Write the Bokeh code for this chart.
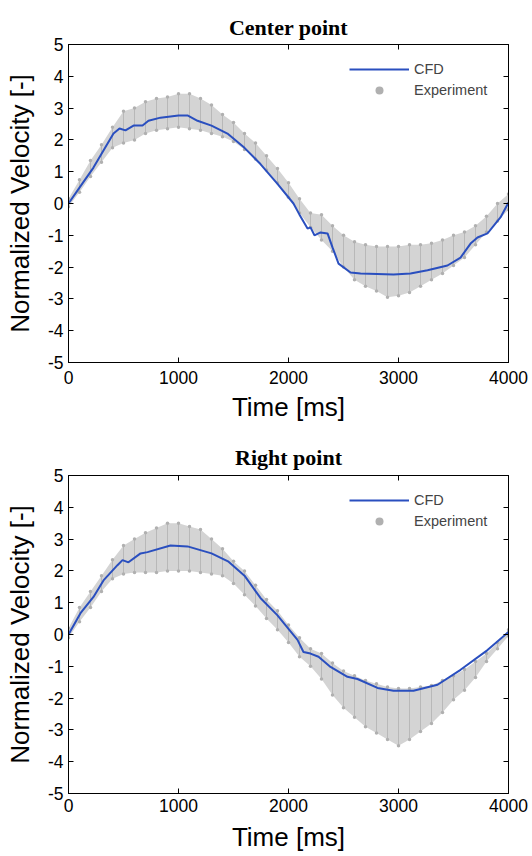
from bokeh.plotting import figure
from bokeh.layouts import column
from bokeh.models import FixedTicker, LinearAxis, Range1d, Legend, LegendItem, ColumnDataSource
from bokeh.embed import file_html
from bokeh.resources import INLINE

x_ticks = [0, 1000, 2000, 3000, 4000]
y_ticks = [-5, -4, -3, -2, -1, 0, 1, 2, 3, 4, 5]
y_tick_labels = ["-5", "-4", "-3", "-2", "-1", "0", "1", "2", "3", "4", "5"]

# ---- Center point: CFD ----
center_cfd_t = [0, 100, 227, 409, 464, 518, 591, 673, 727, 836, 1000, 1082, 1173, 1300, 1445, 1600,
                1745, 1900, 2045, 2100, 2173, 2200, 2236, 2291, 2355, 2400, 2455, 2564, 2655, 2955,
                3109, 3264, 3445, 3564, 3655, 3718, 3809, 3927, 4000]
center_cfd_v = [0.0, 0.5, 1.13, 2.2, 2.36, 2.3, 2.45, 2.45, 2.6, 2.7, 2.77, 2.77, 2.6, 2.45, 2.2, 1.75,
                1.24, 0.62, 0.0, -0.35, -0.79, -0.75, -1.0, -0.91, -0.94, -1.38, -1.89, -2.17, -2.2, -2.23,
                -2.2, -2.1, -1.95, -1.7, -1.26, -1.07, -0.94, -0.44, 0.03]

# ---- Experiment envelope (sampled every 100 ms) ----
exp_t = [0, 100, 200, 300, 400, 500, 600, 700, 800, 900, 1000, 1100, 1200, 1300, 1400, 1500, 1600,
         1700, 1800, 1900, 2000, 2100, 2200, 2300, 2400, 2500, 2600, 2700, 2800, 2900, 3000, 3100,
         3200, 3300, 3400, 3500, 3600, 3700, 3800, 3900, 4000]
center_exp_lo = [-0.1, 0.35, 0.85, 1.3, 1.75, 1.9, 2.0, 2.2, 2.3, 2.35, 2.4, 2.35, 2.3, 2.2, 2.1, 1.95, 1.7,
                 1.4, 1.05, 0.65, 0.2, -0.3, -0.75, -1.15, -1.5, -2.0, -2.4, -2.6, -2.75, -2.95, -2.9, -2.8,
                 -2.6, -2.4, -2.2, -1.95, -1.7, -1.3, -0.9, -0.55, -0.2]
center_exp_hi = [0.15, 0.75, 1.35, 1.85, 2.4, 2.9, 3.0, 3.2, 3.3, 3.35, 3.45, 3.45, 3.3, 3.1, 2.8, 2.55, 2.2,
                 1.9, 1.5, 1.1, 0.65, 0.15, -0.3, -0.35, -0.7, -1.0, -1.2, -1.3, -1.35, -1.35, -1.35, -1.3,
                 -1.3, -1.25, -1.15, -1.0, -0.9, -0.7, -0.4, 0.0, 0.3]

# ---- Right point: CFD ----
right_cfd_t = [0, 109, 227, 318, 445, 491, 545, 655, 718, 927, 1082, 1300, 1450, 1600, 1745, 1900, 2000,
               2082, 2136, 2200, 2273, 2382, 2536, 2627, 2809, 2955, 3136, 3355, 3564, 3809, 4000]
right_cfd_v = [0.0, 0.67, 1.18, 1.7, 2.18, 2.34, 2.27, 2.55, 2.59, 2.8, 2.77, 2.55, 2.3, 1.85, 1.15, 0.6, 0.18,
               -0.17, -0.55, -0.6, -0.7, -1.02, -1.33, -1.4, -1.68, -1.77, -1.77, -1.58, -1.11, -0.49, 0.08]

right_exp_lo = [-0.1, 0.4, 0.85, 1.35, 1.75, 1.9, 1.95, 1.95, 1.95, 2.0, 2.0, 2.0, 1.95, 1.9, 1.85, 1.6, 1.25,
                0.9, 0.5, 0.15, -0.25, -0.7, -1.0, -1.4, -1.9, -2.3, -2.6, -2.9, -3.1, -3.3, -3.5, -3.3,
                -3.05, -2.8, -2.45, -2.05, -1.75, -1.35, -0.85, -0.45, -0.05]
right_exp_hi = [0.2, 0.85, 1.35, 1.85, 2.35, 2.8, 3.0, 3.2, 3.35, 3.5, 3.5, 3.4, 3.3, 3.0, 2.7, 2.3, 2.0,
                1.55, 1.1, 0.75, 0.3, -0.1, -0.45, -0.6, -0.9, -1.15, -1.3, -1.45, -1.55, -1.65, -1.7, -1.7,
                -1.65, -1.6, -1.45, -1.3, -1.1, -0.85, -0.6, -0.25, 0.15]

SANS = "Liberation Sans"
BLUE = "#2a4fbf"
DOT = "#b0b0b0"


def make_panel(title, cfd_t, cfd_v, lo, hi, height, b_top, b_bottom, title_standoff,
               xtick_standoff, xlab_standoff):
    p = figure(width=532, height=height, x_range=Range1d(0, 4000), y_range=Range1d(-5, 5),
               output_backend="svg", toolbar_location=None,
               min_border_left=68, min_border_right=24, min_border_top=b_top,
               min_border_bottom=b_bottom)
    p.title.text = title
    p.title.text_font = "Liberation Serif"
    p.title.text_font_style = "bold"
    p.title.text_font_size = "22px"
    p.title.text_color = "black"
    p.title.align = "center"
    p.title.standoff = title_standoff
    p.grid.visible = False
    p.outline_line_color = "black"
    p.outline_line_width = 1

    for ax in (p.xaxis[0], p.yaxis[0]):
        ax.major_tick_in = 5
        ax.major_tick_out = 0
        ax.minor_tick_in = 0
        ax.minor_tick_out = 0
        ax.axis_line_color = "black"
        ax.major_tick_line_color = "black"
        ax.major_label_text_font = SANS
        ax.major_label_text_font_size = "17.5px"
        ax.major_label_text_color = "black"
        ax.axis_label_text_font = SANS
        ax.axis_label_text_font_style = "normal"
        ax.axis_label_text_font_size = "26px"
        ax.axis_label_text_color = "black"
    p.xaxis.ticker = FixedTicker(ticks=x_ticks)
    p.yaxis.ticker = FixedTicker(ticks=y_ticks)
    p.yaxis.major_label_overrides = dict(zip(y_ticks, y_tick_labels))
    p.xaxis.axis_label = "Time [ms]"
    p.yaxis.axis_label = "Normalized Velocity [-]"
    p.xaxis.major_label_standoff = xtick_standoff
    p.xaxis.axis_label_standoff = xlab_standoff
    p.yaxis.major_label_standoff = 5
    p.yaxis.axis_label_standoff = 10

    for loc, tk in (("above", x_ticks), ("right", y_ticks)):
        ax = LinearAxis(ticker=FixedTicker(ticks=tk), major_label_text_font_size="1px",
                        major_label_text_color=None,
                        major_label_standoff=0, major_tick_in=5, major_tick_out=0,
                        minor_tick_in=0, minor_tick_out=0, axis_line_color="black")
        p.add_layout(ax, loc)

    src = ColumnDataSource(dict(t=exp_t, lo=lo, hi=hi))
    p.varea(x="t", y1="lo", y2="hi", source=src, fill_color="#d4d4d4", fill_alpha=1.0)
    p.segment(x0="t", y0="lo", x1="t", y1="hi", source=src, line_color="#b8b8b8", line_width=1)
    dots = p.scatter(x=exp_t + exp_t, y=lo + hi, marker="circle", size=3.5,
                     fill_color=DOT, line_color=None)
    line = p.line(x=cfd_t, y=cfd_v, line_color=BLUE, line_width=2)

    legend = Legend(items=[LegendItem(label="CFD", renderers=[line]),
                           LegendItem(label="Experiment", renderers=[dots])],
                    location=(281, 262))
    legend.border_line_color = None
    legend.background_fill_alpha = 0
    legend.padding = 0
    legend.margin = 0
    legend.spacing = 1
    legend.glyph_width = 60
    legend.glyph_height = 20
    legend.label_height = 20
    legend.label_standoff = 5
    legend.label_text_font = SANS
    legend.label_text_font_size = "14.5px"
    p.add_layout(legend)
    return p


p1 = make_panel("Center point", center_cfd_t, center_cfd_v, center_exp_lo, center_exp_hi,
                height=436, b_top=44, b_bottom=74, title_standoff=10, xtick_standoff=8, xlab_standoff=5)
p2 = make_panel("Right point", right_cfd_t, right_cfd_v, right_exp_lo, right_exp_hi,
                height=419, b_top=39, b_bottom=62, title_standoff=11, xtick_standoff=5, xlab_standoff=7)

layout = column(p1, p2, spacing=0)
open("out.html", "w").write(file_html(layout, INLINE))
